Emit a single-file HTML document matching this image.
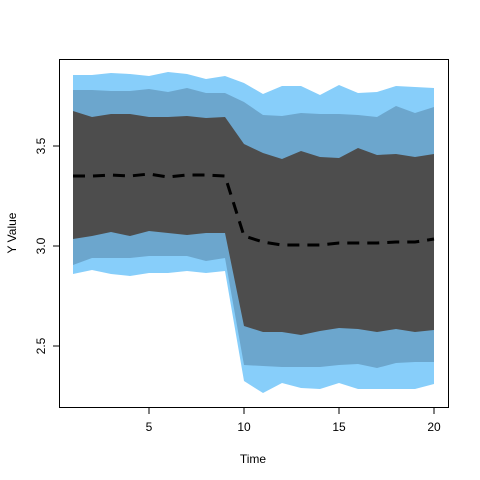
<!DOCTYPE html>
<html><head><meta charset="utf-8"><style>body{margin:0;background:#fff}svg{display:block;font-family:"Liberation Sans",sans-serif}</style></head>
<body>
<svg id="chart" width="480" height="480" viewBox="0 0 480 480"></svg>
<script>
const times=[1,2,3,4,5,6,7,8,9,10,11,12,13,14,15,16,17,18,19,20];
const meanVals=[3.35,3.35,3.355,3.35,3.36,3.345,3.355,3.355,3.35,3.05,3.02,3.005,3.005,3.005,3.015,3.015,3.015,3.02,3.02,3.035];
const upper95=[3.855,3.855,3.865,3.86,3.85,3.87,3.86,3.835,3.85,3.815,3.76,3.80,3.80,3.755,3.805,3.765,3.77,3.80,3.795,3.79];
const upper80=[3.78,3.78,3.775,3.775,3.785,3.77,3.79,3.765,3.765,3.72,3.655,3.65,3.665,3.66,3.66,3.655,3.645,3.70,3.665,3.695];
const upper50=[3.675,3.645,3.66,3.66,3.645,3.645,3.65,3.64,3.645,3.51,3.465,3.435,3.475,3.445,3.44,3.49,3.455,3.46,3.445,3.46];
const lower50=[3.035,3.05,3.07,3.05,3.075,3.065,3.055,3.065,3.065,2.60,2.57,2.57,2.555,2.575,2.59,2.585,2.57,2.585,2.57,2.58];
const lower80=[2.905,2.94,2.94,2.94,2.95,2.95,2.95,2.925,2.94,2.405,2.40,2.395,2.395,2.395,2.405,2.41,2.39,2.415,2.42,2.42];
const lower95=[2.86,2.88,2.86,2.85,2.865,2.865,2.875,2.865,2.875,2.325,2.265,2.315,2.29,2.285,2.315,2.285,2.285,2.285,2.285,2.31];
const xTicks=[5,10,15,20];
const yTicks=[2.5,3.0,3.5];
const yTickLabels=["2.5","3.0","3.5"];

const svg=document.getElementById('chart');
const NS="http://www.w3.org/2000/svg";
const xs=v=>73+(v-1)*19;
const ys=v=>246-(v-3)*200;
function mk(tag,attrs,parent){const e=document.createElementNS(NS,tag);for(const k in attrs)e.setAttribute(k,attrs[k]);(parent||svg).appendChild(e);return e;}
function band(up,lo,color,name){
  let d="M"+times.map((t,i)=>xs(t)+","+ys(up[i])).join("L");
  d+="L"+times.map((t,i)=>xs(t)+","+ys(lo[i])).reverse().join("L")+"Z";
  const p=mk('path',{d:d,fill:color});
  
  
}
band(upper95,lower95,"#87CEFA","band-95");
band(upper80,lower80,"#6CA6CD","band-80");
band(upper50,lower50,"#4D4D4D","band-50");
const ml=mk('polyline',{points:times.map((t,i)=>xs(t)+","+ys(meanVals[i])).join(" "),fill:"none",stroke:"#000","stroke-width":3,"stroke-dasharray":"12,8"});


const box=mk('rect',{x:59.5,y:59.5,width:389,height:348,fill:"none",stroke:"#000","stroke-width":1});


xTicks.forEach(t=>{
  const x=xs(t);
  const l=mk('line',{x1:x,x2:x,y1:407.5,y2:414,stroke:"#000"});
  
  
  const tx=mk('text',{x:x,y:431,"text-anchor":"middle","font-size":12});
  tx.textContent=String(t);
  
  
});
yTicks.forEach((t,i)=>{
  const y=ys(t);
  const l=mk('line',{x1:53,x2:59.5,y1:y,y2:y,stroke:"#000"});
  
  
  const tx=mk('text',{x:0,y:0,"text-anchor":"middle","font-size":12,transform:`translate(45,${y}) rotate(-90)`});
  tx.textContent=yTickLabels[i];
  
  
});
const xt=mk('text',{x:253,y:463,"text-anchor":"middle","font-size":12});
xt.textContent="Time";


const yt=mk('text',{x:0,y:0,"text-anchor":"middle","font-size":12,transform:"translate(16,233) rotate(-90)"});
yt.textContent="Y Value";


</script>
</body></html>
